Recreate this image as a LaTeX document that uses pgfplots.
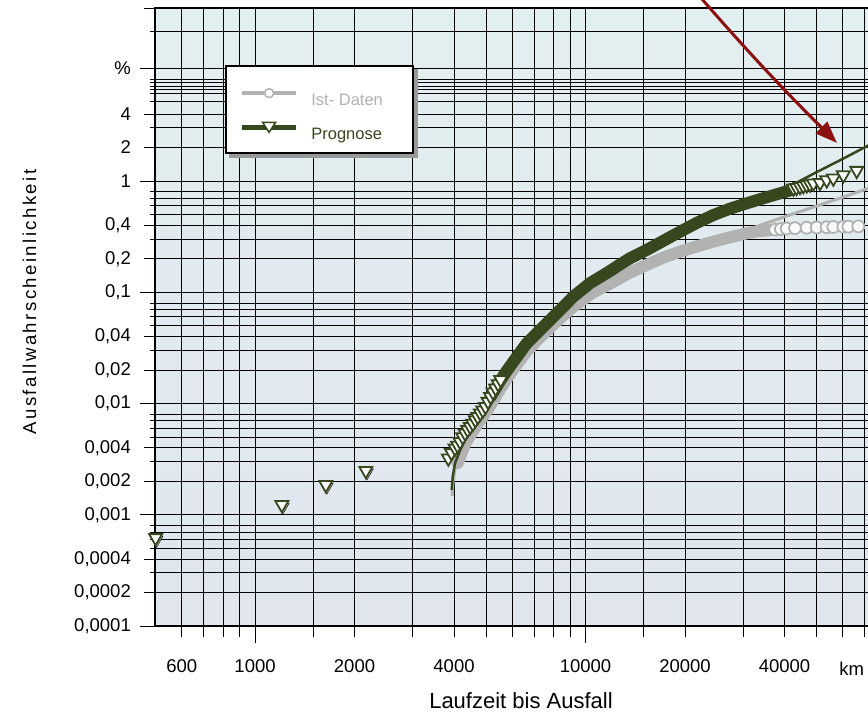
\documentclass[border=0pt]{standalone}
\usepackage{fontspec}
\setmainfont{Liberation Sans}
\usepackage{pgfplots}
\pgfplotsset{compat=1.18}
\usetikzlibrary{arrows.meta}

\definecolor{prog}{RGB}{55,72,30}
\definecolor{ist}{RGB}{178,178,178}
\definecolor{arrowred}{RGB}{140,16,16}
\definecolor{bgtop}{RGB}{226,239,240}
\definecolor{bgmid}{RGB}{248,250,251}
\definecolor{bgbot}{RGB}{224,229,238}

\begin{document}
\begin{tikzpicture}
\begin{axis}[
  scale only axis, width=725pt, height=618pt,
  xmode=log, ymode=log,
  xmin=498, xmax=77830, ymin=0.0001, ymax=35.9,
  clip=false,
  axis background/.style={shade, top color=bgtop, middle color=bgmid, bottom color=bgbot},
  axis line style={black, line width=2.5pt},
  tick align=outside, tick pos=left,
  xtick={600,700,800,900,1000,1500,2000,3000,4000,5000,6000,7000,8000,9000,10000,15000,20000,30000,40000,50000,60000,70000},
  xticklabels={600,{},{},{},1000,{},2000,{},4000,{},{},{},{},{},10000,{},20000,{},40000,{},{},{}},
  extra x ticks={1000,10000},
  extra x tick labels={},
  extra x tick style={major tick length=17pt},
  ytick={0.0001,0.0002,0.0004,0.001,0.002,0.004,0.01,0.02,0.04,0.1,0.2,0.4,1,2,4,10.37,35.9},
  yticklabels={{0,0001},{0,0002},{0,0004},{0,001},{0,002},{0,004},{0,01},{0,02},{0,04},{0,1},{0,2},{0,4},1,2,4,\%,{}},
  minor ytick={0.0003,0.0005,0.0006,0.0007,0.0008,0.003,0.005,0.006,0.007,0.008,0.03,0.05,0.06,0.07,0.08,0.3,0.5,0.6,0.7,0.8,3.06,5.16,6.09,6.67,7.14,7.71,8.26,22},
  extra y ticks={0.0001,0.001,0.01,0.1,1,10.37},
  extra y tick labels={},
  extra y tick style={major tick length=15pt},
  major tick length=11pt, minor tick length=5pt,
  xmajorgrids=true, ymajorgrids=true, yminorgrids=true,
  major grid style={black, line width=0.9pt},
  minor grid style={black, line width=0.9pt},
  every tick/.style={black, line width=0.9pt},
  tick label style={font=\fontsize{18.5}{22}\selectfont, inner sep=0pt},
  xticklabel style={yshift=-22pt},
  yticklabel style={xshift=-13pt},
  every axis x label/.style={at={(axis description cs:0.5048,-0.1343)}, anchor=base, font=\fontsize{22}{26}\selectfont},
  every axis y label/.style={at={(axis description cs:-0.1641,0.5243)}, rotate=90, anchor=base, font=\fontsize{18.6}{22}\selectfont\addfontfeatures{LetterSpace=13}},
  xlabel={Laufzeit bis Ausfall},
  ylabel={Ausfallwahrscheinlichkeit},
  legend style={
    name=leg,
    at={(0.0966,0.9077)}, anchor=north west,
    draw=black, line width=1.6pt, fill=white,
    font=\fontsize{16.5}{20}\selectfont,
    inner xsep=14pt, inner ysep=10.5pt,
    row sep=2pt,
    /tikz/every odd column/.append style={column sep=11pt},
  },
  legend cell align=left,
]
% legend entries
\addlegendimage{legend image code/.code={
  \path (0pt,23pt);
  \draw[ist, line width=4.5pt] (0pt,7pt) -- (54pt,7pt);
  \draw[ist, fill=white, line width=1.5pt] (27pt,7pt) circle (4.5pt);}}
\addlegendentry{\textcolor{ist}{Ist- Daten}\hspace*{14pt}}
\addlegendimage{legend image code/.code={
  \path (0pt,23pt);
  \draw[prog, line width=4.5pt] (0pt,7pt) -- (54pt,7pt);
  \draw[prog, fill=white, line width=1.5pt] (20.5pt,12pt) -- (33.5pt,12pt) -- (27pt,2pt) -- cycle;}}
\addlegendentry{\textcolor{prog}{Prognose}\hspace*{14pt}}

% Ist-Daten dense band
\addplot[ist, line width=12pt, line cap=round, line join=round, forget plot] coordinates {
(4100,0.0029) (4200,0.0035) (4322,0.0043) (4478,0.0052) (4640,0.0061) (4806,0.0071)
(4980,0.0082) (5160,0.0097) (5345,0.0115) (5537,0.0138) (5800,0.0170) (6200,0.0225)
(6640,0.0295) (7290,0.0395) (8190,0.055) (9180,0.074) (9625,0.082) (10500,0.099)
(12130,0.124) (13600,0.150) (15310,0.176) (17200,0.205) (19320,0.232) (21700,0.258)
(24360,0.285) (27400,0.312) (30730,0.339) (33500,0.354) (36980,0.364) (40600,0.373)
};
% Ist-Daten circles
\addplot[only marks, mark=*, mark size=6pt, mark options={draw=ist, fill=white!95!gray, line width=1.8pt}, forget plot] coordinates {
(37500,0.366) (39000,0.370) (40630,0.374) (43040,0.377) (46700,0.380) (50070,0.382)
(53680,0.384) (56220,0.386) (60270,0.388) (62410,0.389) (66910,0.391)
};
% Ist-Daten fit
\addplot[ist, line width=3pt, forget plot] coordinates {
(3950,0.00147) (3975,0.0020) (4040,0.0027) (4180,0.0036) (4400,0.0048) (4700,0.0066)
(5160,0.0098) (5800,0.0168) (6640,0.0292) (7290,0.039) (8190,0.054) (9180,0.072)
(10500,0.097) (12130,0.122) (15310,0.174) (19320,0.232) (24360,0.290) (30730,0.358)
(33740,0.400) (40000,0.477) (50000,0.596) (60000,0.715) (72000,0.86)
};
% Prognose dense band
\addplot[prog, line width=12pt, line cap=round, line join=round, forget plot] coordinates {
(5160,0.0115) (5345,0.0137) (5537,0.0163) (5800,0.020) (6200,0.0263) (6640,0.0348)
(7290,0.0458) (8190,0.0647) (9180,0.0912) (10330,0.121) (11600,0.149) (12730,0.178)
(13630,0.202) (15310,0.240) (17200,0.290) (19320,0.350) (21700,0.420) (24360,0.494)
(27400,0.565) (30730,0.630) (34500,0.700) (38760,0.775) (42550,0.840)
};
% shadow of the isolated Prognose triangles
\addplot[only marks, mark=triangle*, mark size=7.5pt, mark options={xshift=1pt, yshift=-2pt, rotate=180, draw=none, fill=black!30}, forget plot] coordinates {
(500,0.00062) (1205,0.00123) (1637,0.00186) (2164,0.00249)
};
% Prognose triangles
\addplot[only marks, mark=triangle*, mark size=7.5pt, mark options={rotate=180, draw=prog, fill=white, line width=1.8pt}, forget plot] coordinates {
(500,0.00062) (1205,0.00123) (1637,0.00186) (2164,0.00249)
(3846,0.00322) (3930,0.0036) (4028,0.00396) (4100,0.0042) (4172,0.00453) (4250,0.0050)
(4322,0.0054) (4400,0.0058) (4478,0.00619) (4560,0.0066) (4640,0.00711) (4720,0.0076)
(4806,0.00817) (4890,0.0087) (4980,0.00936) (5070,0.0104) (5160,0.0115) (5250,0.0126)
(5345,0.0137) (5440,0.0150) (5537,0.0163)
(42550,0.86) (43500,0.87) (44570,0.889) (45600,0.905) (46700,0.92) (47800,0.935)
(48910,0.953) (51230,0.966) (53680,1.02) (56220,1.057) (60270,1.13) (66170,1.24)
};
% Prognose fit
\addplot[prog, line width=2.5pt, forget plot] coordinates {
(3936,0.00167) (3964,0.0022) (4028,0.0029) (4172,0.0038) (4370,0.0050) (4688,0.0071)
(5160,0.0110) (5800,0.0188) (6640,0.0330) (7290,0.0440) (8190,0.0620) (9180,0.0870)
(10330,0.116) (12130,0.160) (15310,0.235) (19320,0.345) (24360,0.485) (30730,0.640)
(38760,0.830) (42450,0.930) (50000,1.20) (60000,1.58) (72000,2.10)
};
\node[anchor=base, font=\fontsize{18.5}{22}\selectfont] at ([yshift=-49pt]axis cs:63900,0.0001) {km};
\end{axis}
% legend shadow (right and bottom strips)
\fill[black!40] ([yshift=-4pt]leg.north east) rectangle ([xshift=4pt,yshift=-4pt]leg.south east);
\fill[black!40] ([xshift=4pt]leg.south west) rectangle ([xshift=4pt,yshift=-4pt]leg.south east);
\draw[arrowred, line width=3pt, -{Triangle[length=22pt, width=16pt]}] (539pt,636pt) to[bend right=2] (682pt,483pt);
\pgfresetboundingbox
\useasboundingbox (-155pt,-88pt) rectangle (713pt,626pt);
\end{tikzpicture}
\end{document}
